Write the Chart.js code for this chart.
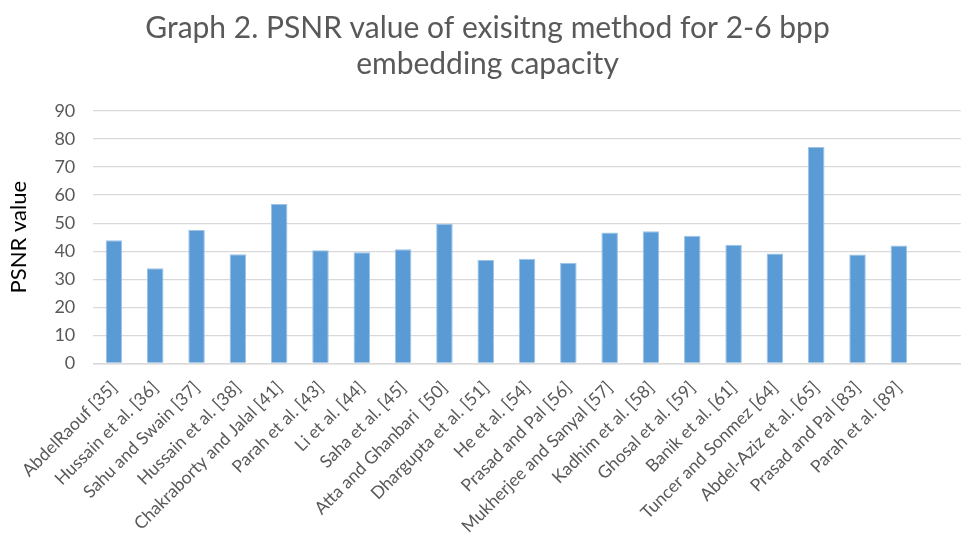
<!DOCTYPE html>
<html>
<head>
<meta charset="utf-8">
<script src="https://cdn.jsdelivr.net/npm/chart.js@4/dist/chart.umd.min.js"></script>
<style>
  html, body { margin: 0; padding: 0; background: #fff; }
  #wrap { width: 969px; height: 551px; }
</style>
</head>
<body>
<div id="wrap"><canvas id="psnrChart" width="969" height="551"></canvas></div>
<script>
  // data
  var methods = ["AbdelRaouf [35]", "Hussain et al. [36]", "Sahu and Swain [37]", "Hussain et al. [38]",
    "Chakraborty and Jalal [41]", "Parah et al. [43]", "Li et al. [44]", "Saha et al. [45]",
    "Atta and Ghanbari  [50]", "Dhargupta et al. [51]", "He et al. [54]", "Prasad and Pal [56]",
    "Mukherjee and Sanyal [57]", "Kadhim et al. [58]", "Ghosal et al. [59]", "Banik et al. [61]",
    "Tuncer and Sonmez [64]", "Abdel-Aziz et al. [65]", "Prasad and Pal [83]", "Parah et al. [89]"];
  var psnr = [43.9, 33.9, 47.6, 38.9, 56.8, 40.3, 39.6, 40.7, 49.8, 36.9,
    37.3, 35.8, 46.7, 47.1, 45.5, 42.3, 39.2, 77.2, 38.8, 42.0];
  var yTicks = [0, 10, 20, 30, 40, 50, 60, 70, 80, 90];

  // the excel sheet had one empty row at the end
  var labels = methods.concat([""]);

  var ctx = document.getElementById("psnrChart").getContext('2d');
  var chart = new Chart(ctx, {
    type: 'bar',
    data: {
      labels: labels,
      datasets: [{
        label: "PSNR",
        data: psnr,
        backgroundColor: "#5B9BD5",
        borderColor: "#9DC3E6",
        borderWidth: { top: 1, left: 1, right: 1, bottom: 0 },
        barPercentage: 0.4,
        categoryPercentage: 1.0
      }]
    },
    options: {
      responsive: false,
      animation: false,
      layout: { padding: { left: 6, right: 0, top: 10, bottom: 0 } },
      plugins: {
        legend: { display: false },
        tooltip: { enabled: false },
        title: {
          display: true,
          text: ["Graph 2. PSNR value of exisitng method for 2-6 bpp", "embedding capacity"],
          color: "#595959",
          font: { family: "Lato, 'Open Sans', sans-serif", size: 30, weight: 'normal', lineHeight: 1.2 },
          padding: { top: 0, bottom: 29 }
        }
      },
      scales: {
        x: {
          grid: { display: false, drawTicks: false },
          border: { color: "#D9D9D9", width: 1.5 },
          ticks: {
            color: "#595959",
            font: { family: "Lato, 'Open Sans', sans-serif", size: 17.5 },
            maxRotation: 45,
            minRotation: 45,
            autoSkip: false,
            padding: 14
          }
        },
        y: {
          min: 0,
          max: 90,
          afterBuildTicks: function (axis) {
            axis.ticks = yTicks.map(function (v) { return { value: v }; });
          },
          grid: { color: "#D9D9D9", lineWidth: 1.3, drawTicks: false },
          border: { display: false },
          ticks: {
            color: "#595959",
            font: { family: "Lato, 'Open Sans', sans-serif", size: 18 },
            padding: 18
          },
          title: {
            display: true,
            text: "PSNR value",
            color: "#000000",
            font: { family: "Lato, 'Open Sans', sans-serif", size: 22 },
            padding: { top: 0, bottom: 4 }
          }
        }
      }
    }
  });
</script>
</body>
</html>
